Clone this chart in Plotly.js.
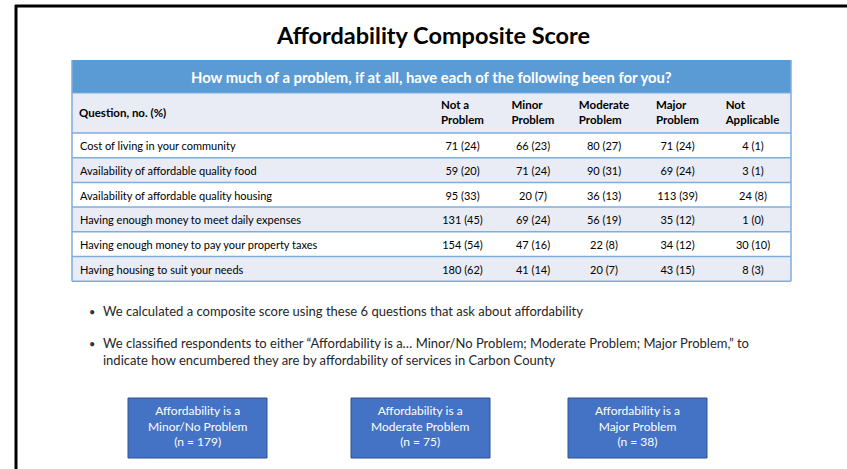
<!DOCTYPE html>
<html><head><meta charset="utf-8">
<script src="https://cdn.plot.ly/plotly-3.0.1.min.js"></script>
<style>html,body{margin:0;padding:0;background:#fff}#chart{width:847px;height:469px}</style>
</head><body><div id="chart"></div>
<script>
// ---- data ----
const questions = [
  'Cost of living in your community',
  'Availability of affordable quality food',
  'Availability of affordable quality housing',
  'Having enough money to meet daily expenses',
  'Having enough money to pay your property taxes',
  'Having housing to suit your needs'
];
const columnHeaders = ['Question, no. (%)', 'Not a<br>Problem', 'Minor<br>Problem', 'Moderate<br>Problem', 'Major<br>Problem', 'Not<br>Applicable'];
const notProblemN = [71, 59, 95, 131, 154, 180];
const notProblemPct = [24, 20, 33, 45, 54, 62];
const minorN = [66, 71, 20, 69, 47, 41];
const minorPct = [23, 24, 7, 24, 16, 14];
const moderateN = [80, 90, 36, 56, 22, 20];
const moderatePct = [27, 31, 13, 19, 8, 7];
const majorN = [71, 69, 113, 35, 34, 43];
const majorPct = [24, 24, 39, 12, 12, 15];
const notApplicableN = [4, 3, 24, 1, 30, 8];
const notApplicablePct = [1, 1, 8, 0, 10, 3];
const groupLabels = ['Minor/No Problem', 'Moderate Problem', 'Major Problem'];
const groupN = [179, 75, 38];
const chartTitle = 'Affordability Composite Score';
const tableTitle = 'How much of a problem, if at all, have each of the following been for you?';
const bullets = [
  'We calculated a composite score using these 6 questions that ask about affordability',
  'We classified respondents to either \u201cAffordability is a\u2026 Minor/No Problem; Moderate Problem; Major Problem,\u201d to<br>indicate how encumbered they are by affordability of services in Carbon County'
];

// ---- layout helpers ----
const W = 847, H = 469;
const px = x => x / W;
const py = y => 1 - y / H;
const FONT = 'Lato, "Open Sans", sans-serif';
const fmt = (n, p) => n.map((v, i) => `${v} (${p[i]})`);
const light = '#E9EBF5', blueBar = '#5B9BD5', lineBlue = '#7FAEDD';

const tblL = 72, tblR = 791, barTop = 60, headTop = 93, headH = 40, rowH = 24.7;
const textShift = 3; // table text sits this much higher than the row bands
const rowFill = questions.map((q, i) => i % 2 === 0 ? '#FFFFFF' : light);
const tblBottom = headTop + headH + rowH * questions.length;

const table = {
  type: 'table',
  domain: {x: [px(tblL), px(tblR)], y: [py(tblBottom + 8), py(headTop - textShift)]},
  columnwidth: [355, 71, 70, 72, 75, 76],
  header: {
    values: ['', ...columnHeaders.slice(1)].map(h => h ? '<b>' + h + '</b>' : ''),
    align: ['left', 'center', 'center', 'center', 'center', 'center'],
    height: headH,
    fill: {color: 'rgba(0,0,0,0)'},
    line: {width: 0, color: 'rgba(0,0,0,0)'},
    font: {family: FONT, size: 11.5, color: '#000'}
  },
  cells: {
    values: [questions, fmt(notProblemN, notProblemPct), fmt(minorN, minorPct), fmt(moderateN, moderatePct), fmt(majorN, majorPct), fmt(notApplicableN, notApplicablePct)],
    align: ['left', 'center', 'center', 'center', 'center', 'center'],
    height: rowH,
    fill: {color: 'rgba(0,0,0,0)'},
    line: {width: 0, color: 'rgba(0,0,0,0)'},
    font: {family: FONT, size: 11, color: '#000'}
  }
};

const shapes = [];
// slide frame
shapes.push({type: 'line', xref: 'paper', yref: 'paper', x0: px(16), x1: px(16), y0: py(5), y1: py(469), line: {color: '#000', width: 3}});
shapes.push({type: 'line', xref: 'paper', yref: 'paper', x0: px(15), x1: px(847), y0: py(6), y1: py(6), line: {color: '#000', width: 3}});
// table title bar + header band + row bands
shapes.push({type: 'rect', xref: 'paper', yref: 'paper', x0: px(tblL), x1: px(tblR), y0: py(headTop), y1: py(barTop), fillcolor: blueBar, line: {width: 0}, layer: 'below'});
shapes.push({type: 'rect', xref: 'paper', yref: 'paper', x0: px(tblL), x1: px(tblR), y0: py(headTop + headH), y1: py(headTop), fillcolor: light, line: {width: 0}, layer: 'below'});
rowFill.forEach((c, i) => {
  const y0 = headTop + headH + rowH * i;
  shapes.push({type: 'rect', xref: 'paper', yref: 'paper', x0: px(tblL), x1: px(tblR), y0: py(y0 + rowH), y1: py(y0), fillcolor: c, line: {width: 0}, layer: 'below'});
});
// horizontal row separators
for (let i = 0; i <= questions.length; i++) {
  const y = headTop + headH + rowH * i;
  shapes.push({type: 'line', xref: 'paper', yref: 'paper', x0: px(tblL), x1: px(tblR), y0: py(y), y1: py(y), line: {color: lineBlue, width: 1.5}, layer: 'above'});
}
shapes.push({type: 'line', xref: 'paper', yref: 'paper', x0: px(tblL), x1: px(tblR), y0: py(headTop), y1: py(headTop), line: {color: lineBlue, width: 1}, layer: 'above'});
[tblL, tblR].forEach(x => shapes.push({type: 'line', xref: 'paper', yref: 'paper', x0: px(x), x1: px(x), y0: py(barTop), y1: py(tblBottom), line: {color: lineBlue, width: 1.5}, layer: 'above'}));

const annotations = [];
annotations.push({xref: 'paper', yref: 'paper', x: px(433), y: py(35), text: '<b>' + chartTitle + '</b>', showarrow: false, xanchor: 'center', yanchor: 'middle', font: {family: FONT, size: 23.5, color: '#000'}});
annotations.push({xref: 'paper', yref: 'paper', x: px(431), y: py(77), text: '<b>' + tableTitle + '</b>', showarrow: false, xanchor: 'center', yanchor: 'middle', font: {family: FONT, size: 14.8, color: '#fff'}});
annotations.push({xref: 'paper', yref: 'paper', x: px(77), y: py(headTop + headH / 2), text: '<b>' + columnHeaders[0] + '</b>', showarrow: false, xanchor: 'left', yanchor: 'middle', font: {family: FONT, size: 11.5, color: '#000'}});
const bulletY = [311, 343];
bullets.forEach((b, i) => {
  annotations.push({xref: 'paper', yref: 'paper', x: px(87), y: py(bulletY[i]), text: '\u2022', showarrow: false, xanchor: 'left', yanchor: 'middle', font: {family: FONT, size: 11, color: '#333'}});
  annotations.push({xref: 'paper', yref: 'paper', x: px(101), y: py(bulletY[i] - 10), text: b, showarrow: false, xanchor: 'left', yanchor: 'top', align: 'left', font: {family: FONT, size: 13, color: '#262626'}});
});

// composite boxes
const boxL = [128, 351, 568], boxW = 139, boxTop = 398, boxBot = 458;
groupLabels.forEach((g, i) => {
  shapes.push({type: 'rect', xref: 'paper', yref: 'paper', x0: px(boxL[i]), x1: px(boxL[i] + boxW), y0: py(boxBot), y1: py(boxTop), fillcolor: '#4472C4', line: {color: '#2F528F', width: 1}});
  annotations.push({xref: 'paper', yref: 'paper', x: px(boxL[i] + boxW / 2), y: py((boxTop + boxBot) / 2 - 2), text: `Affordability is a<br>${g}<br>(n = ${groupN[i]})`, showarrow: false, xanchor: 'center', yanchor: 'middle', align: 'center', font: {family: FONT, size: 12, color: '#fff'}});
});

Plotly.newPlot('chart', [table], {
  width: W, height: H,
  margin: {l: 0, r: 0, t: 0, b: 0},
  paper_bgcolor: '#fff',
  showlegend: false,
  shapes, annotations
}, {displayModeBar: false, staticPlot: true});
</script></body></html>
